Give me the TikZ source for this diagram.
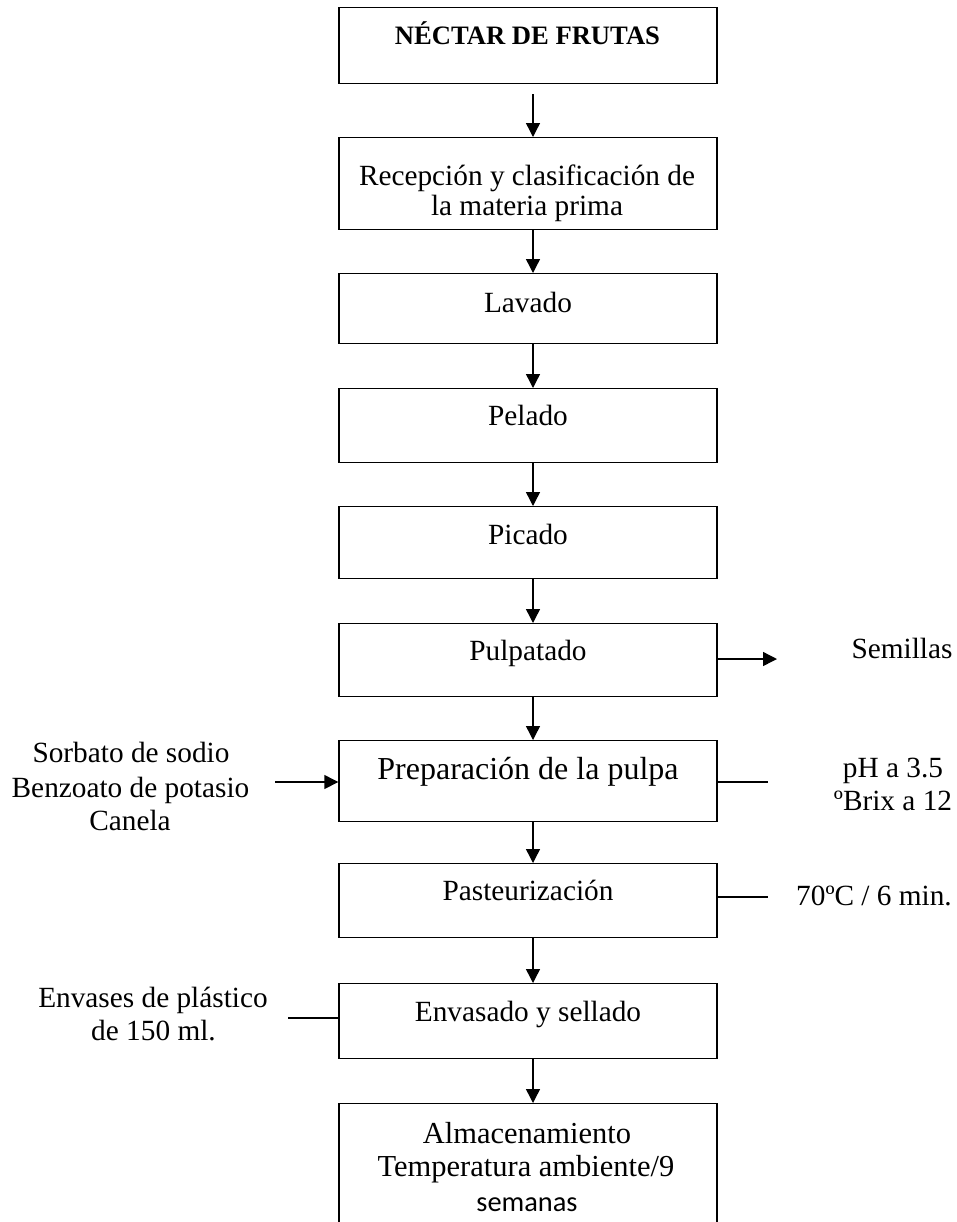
\documentclass[tikz,border=0pt]{standalone}
\usepackage{fontspec}
\setmainfont{Liberation Serif}
\newfontfamily\calibrifont{Carlito}
\usetikzlibrary{arrows.meta}
\tikzset{
  box/.style={draw, line width=0.7pt, minimum width=189pt, inner sep=0pt, anchor=north},
  arr/.style={line width=0.7pt, -{Triangle[length=7pt,width=7pt]}},
  ln/.style={line width=0.7pt},
  txt/.style={anchor=base, inner sep=0pt, font=\fontsize{14.65pt}{17pt}\selectfont},
  ttl/.style={anchor=base, inner sep=0pt, font=\fontsize{13.3pt}{16pt}\selectfont\bfseries},
  big/.style={anchor=base, inner sep=0pt, font=\fontsize{16pt}{19pt}\selectfont},
  mid/.style={anchor=base, inner sep=0pt, font=\fontsize{15.25pt}{18pt}\selectfont},
  sans/.style={anchor=base, inner sep=0pt, font=\fontsize{14.2pt}{17pt}\selectfont\calibrifont}
}
\begin{document}
\begin{tikzpicture}[x=0.5pt, y=-0.5pt]
\useasboundingbox (0,0) rectangle (957,1222);
\clip (0,0) rectangle (957,1222);
% boxes
\node[box, minimum height=38pt]   (b1)  at (528,7) {};
\node[box, minimum height=46pt]   (b2)  at (528,137) {};
\node[box, minimum height=35pt]   (b3)  at (528,273) {};
\node[box, minimum height=37pt]   (b4)  at (528,388) {};
\node[box, minimum height=36pt]   (b5)  at (528,506) {};
\node[box, minimum height=36.5pt] (b6)  at (528,623) {};
\node[box, minimum height=40.5pt] (b7)  at (528,740) {};
\node[box, minimum height=37pt]   (b8)  at (528,863) {};
\node[box, minimum height=37.5pt] (b9)  at (528,983) {};
\node[box, minimum height=75pt]   (b10) at (528,1103) {};
% box texts
\node[ttl] (t1) at (527.5,44) {NÉCTAR DE FRUTAS};
\node[txt] (t2a) at (527,185) {Recepción y clasificación de};
\node[txt] (t2b) at (527,215) {la materia prima};
\node[txt] (t3) at (528,312) {Lavado};
\node[txt] (t4) at (528,425) {Pelado};
\node[txt] (t5) at (528,544) {Picado};
\node[txt] (t6) at (528,660) {Pulpatado};
\node[big] (t7) at (528,779) {Preparación de la pulpa};
\node[txt] (t8) at (528,900) {Pasteurización};
\node[txt] (t9) at (528,1021) {Envasado y sellado};
\node[mid] (t10a) at (527,1143) {Almacenamiento};
\node[mid] (t10b) at (526,1176) {Temperatura ambiente/9};
\node[sans] (t10c) at (527,1211) {semanas};
% side texts
\node[txt] (sem) at (902,658) {Semillas};
\node[txt] (ph) at (893,777) {pH a 3.5};
\node[txt] (brix) at (893,810) {ºBrix a 12};
\node[txt] (temp) at (874,905) {70ºC / 6 min.};
\node[txt] (sa) at (131,762) {Sorbato de sodio};
\node[txt] (sb) at (130.5,797) {Benzoato de potasio};
\node[txt] (sc) at (130,830) {Canela};
\node[txt] (ea) at (153,1007) {Envases de plástico};
\node[txt] (eb) at (153.5,1040) {de 150 ml.};
% main arrows
\draw[arr] ([xshift=2.5pt,yshift=-5pt]b1.south) -- ([xshift=2.5pt]b2.north);
\draw[arr] ([xshift=2.5pt]b2.south) -- ([xshift=2.5pt]b3.north);
\draw[arr] ([xshift=2.5pt]b3.south) -- ([xshift=2.5pt]b4.north);
\draw[arr] ([xshift=2.5pt]b4.south) -- ([xshift=2.5pt]b5.north);
\draw[arr] ([xshift=2.5pt]b5.south) -- ([xshift=2.5pt]b6.north);
\draw[arr] ([xshift=2.5pt]b6.south) -- ([xshift=2.5pt]b7.north);
\draw[arr] ([xshift=2.5pt]b7.south) -- ([xshift=2.5pt]b8.north);
\draw[arr] ([xshift=2.5pt]b8.south) -- ([xshift=2.5pt]b9.north);
\draw[arr] ([xshift=2.5pt]b9.south) -- ([xshift=2.5pt]b10.north);
% side connectors
\coordinate (semend) at (777,659);
\draw[arr] (b6.east |- semend) -- (semend);
\coordinate (phend) at (768,782);
\draw[ln] (b7.east |- phend) -- (phend);
\coordinate (tend) at (768,897);
\draw[ln] (b8.east |- tend) -- (tend);
\coordinate (sstart) at (275,782);
\draw[arr] (sstart) -- (sstart -| b7.west);
\coordinate (estart) at (288,1018);
\draw[ln] (estart) -- (estart -| b9.west);
\end{tikzpicture}
\end{document}
